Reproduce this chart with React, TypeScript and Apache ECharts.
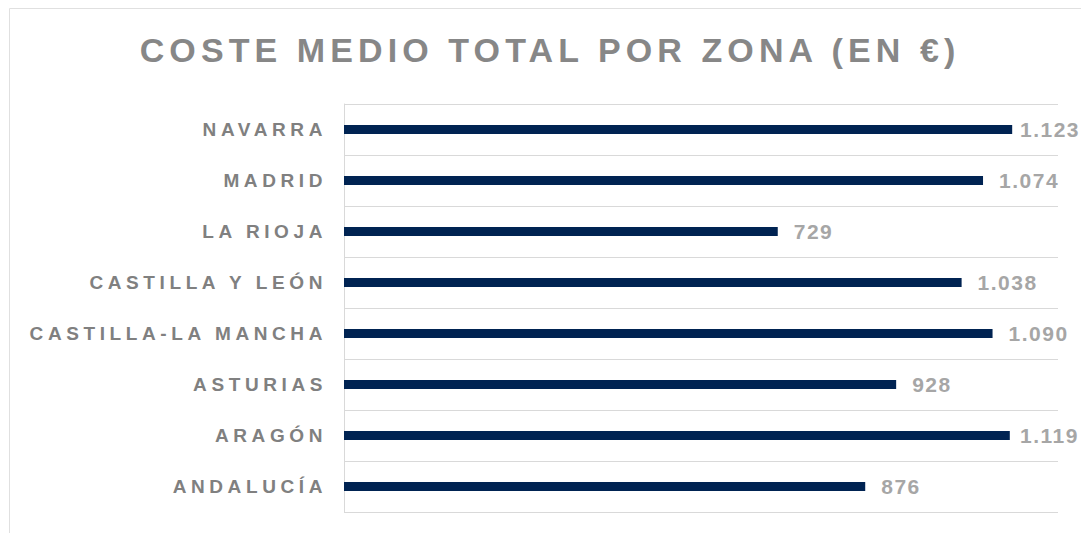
import React, { useEffect, useRef } from "react";
import * as echarts from "echarts";

const TITLE = "COSTE MEDIO TOTAL POR ZONA (EN €)";
const categories = [
  "NAVARRA",
  "MADRID",
  "LA RIOJA",
  "CASTILLA Y LEÓN",
  "CASTILLA-LA MANCHA",
  "ASTURIAS",
  "ARAGÓN",
  "ANDALUCÍA",
];
const values = [1123, 1074, 729, 1038, 1090, 928, 1119, 876];
const xMin = 0;
const xMax = 1200;

const FONT = "Arial, 'Liberation Sans', sans-serif";
const GRID_LEFT = 344;
const GRID_WIDTH = 714;
const CHART_RIGHT_LIMIT = 1078;
const LABEL_WIDTH = 58;

function fmt(v: number): string {
  const s = String(v);
  return s.length > 3 ? s.slice(0, s.length - 3) + "." + s.slice(s.length - 3) : s;
}

function applySpacing(el: HTMLDivElement) {
  el.querySelectorAll("text").forEach((t) => {
    const txt = (t.textContent || "").trim();
    let ls = "4.6px";
    if (/^[\d.]+$/.test(txt)) ls = "1.5px";
    else if (txt === TITLE) ls = "5.1px";
    t.setAttribute("letter-spacing", ls);
  });
}

export default function App() {
  const ref = useRef<HTMLDivElement>(null);
  useEffect(() => {
    if (!ref.current) return;
    const el = ref.current;
    const chart = echarts.init(el, undefined, { renderer: "svg" });
    const pxPerUnit = GRID_WIDTH / (xMax - xMin);
    const data = values.map((v) => {
      const barEnd = GRID_LEFT + (v - xMin) * pxPerUnit;
      const dist = Math.min(16, CHART_RIGHT_LIMIT - LABEL_WIDTH - barEnd);
      return { value: v, label: { distance: dist } };
    });
    chart.setOption({
      animation: false,
      backgroundColor: "#ffffff",
      title: {
        text: TITLE,
        left: 545,
        top: 28,
        textAlign: "center",
        textStyle: {
          fontFamily: FONT,
          fontSize: 34,
          fontWeight: "bold",
          color: "#878787",
        },
      },
      graphic: [
        {
          type: "rect",
          shape: { x: 9.5, y: 8.5, width: 1100, height: 600 },
          style: { fill: "none", stroke: "#e0e0e0", lineWidth: 1 },
          silent: true,
          z: -10,
        },
      ],
      grid: { left: GRID_LEFT, top: 104, width: GRID_WIDTH, height: 408 },
      xAxis: {
        type: "value",
        min: xMin,
        max: xMax,
        axisLabel: { show: false },
        axisLine: { show: false },
        axisTick: { show: false },
        splitLine: { show: false },
      },
      yAxis: {
        type: "category",
        inverse: true,
        data: categories,
        axisLine: { show: true, lineStyle: { color: "#d9d9d9", width: 1 } },
        axisTick: { show: false },
        splitLine: { show: true, lineStyle: { color: "#d9d9d9", width: 1 } },
        axisLabel: {
          margin: 17,
          fontFamily: FONT,
          fontSize: 19,
          fontWeight: "bold",
          color: "#808080",
        },
      },
      series: [
        {
          type: "bar",
          data,
          barWidth: 9,
          itemStyle: { color: "#002352" },
          label: {
            show: true,
            position: "right",
            fontFamily: FONT,
            fontSize: 21,
            fontWeight: "bold",
            color: "#a6a6a6",
            formatter: (p: any) => fmt(p.value),
          },
          silent: true,
        },
      ],
    });
    applySpacing(el);
    const onFinished = () => applySpacing(el);
    chart.on("finished", onFinished);
    return () => {
      chart.off("finished", onFinished);
      chart.dispose();
    };
  }, []);
  return (
    <div
      ref={ref}
      style={{ position: "absolute", left: 0, top: 0, width: 1081, height: 533 }}
    />
  );
}
